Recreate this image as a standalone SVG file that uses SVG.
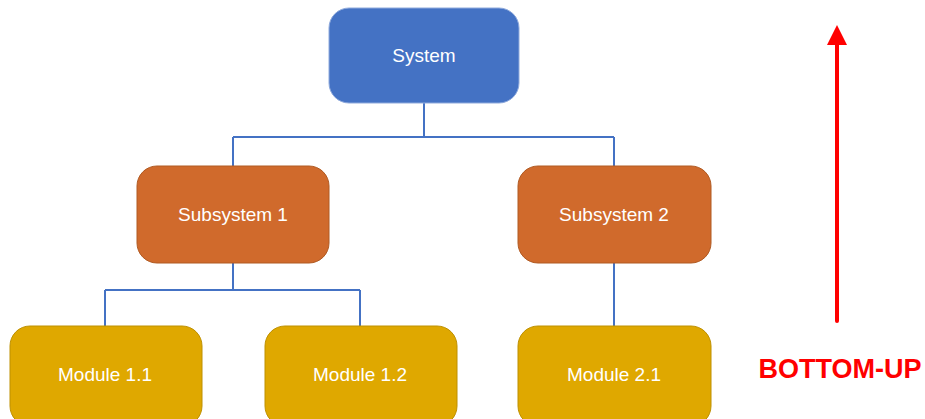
<svg xmlns="http://www.w3.org/2000/svg" width="925" height="419" viewBox="0 0 925 419">
<defs>
<style>
.sys{fill:#4472C4;stroke:#8FAADC;stroke-width:1}
.sub{fill:#D06A2C;stroke:#B05A22;stroke-width:1}
.mod{fill:#DFA800;stroke:#BE9000;stroke-width:1}
.lbl{font-family:"Liberation Sans",Arial,sans-serif;font-size:19px;fill:#FFFFFF;text-anchor:middle}
.con{fill:none;stroke:#4472C4;stroke-width:2}
</style>
</defs>
<rect width="925" height="419" fill="#FFFFFF"/>
<g id="connectors">
<path class="con" d="M424,103 V137 M233,137 H614 M233,137 V166 M614,137 V166"/>
<path class="con" d="M233,263 V290 M105,290 H360 M105,290 V326 M360,290 V326"/>
<path class="con" d="M614,263 V326"/>
</g>
<g id="system"><rect class="sys" x="329" y="8" width="190" height="95" rx="20"/><text class="lbl" x="424" y="62">System</text></g>
<g id="subsystem1"><rect class="sub" x="137" y="166" width="192" height="97" rx="20"/><text class="lbl" x="233" y="221">Subsystem 1</text></g>
<g id="subsystem2"><rect class="sub" x="518" y="166" width="193" height="97" rx="20"/><text class="lbl" x="614" y="221">Subsystem 2</text></g>
<g id="module11"><rect class="mod" x="10" y="326" width="192" height="100" rx="20"/><text class="lbl" x="105" y="381">Module 1.1</text></g>
<g id="module12"><rect class="mod" x="265" y="326" width="192" height="100" rx="20"/><text class="lbl" x="360" y="381">Module 1.2</text></g>
<g id="module21"><rect class="mod" x="518" y="326" width="193" height="100" rx="20"/><text class="lbl" x="614" y="381">Module 2.1</text></g>
<g id="bottomup">
<line x1="837" y1="321" x2="837" y2="44" stroke="#FF0000" stroke-width="4" stroke-linecap="round"/>
<path d="M827,45 L837,25 L847,45 Z" fill="#FF0000"/>
<text x="840" y="378" font-family="Liberation Sans,Arial,sans-serif" font-size="27" font-weight="bold" fill="#FF0000" text-anchor="middle">BOTTOM-UP</text>
</g>
</svg>
